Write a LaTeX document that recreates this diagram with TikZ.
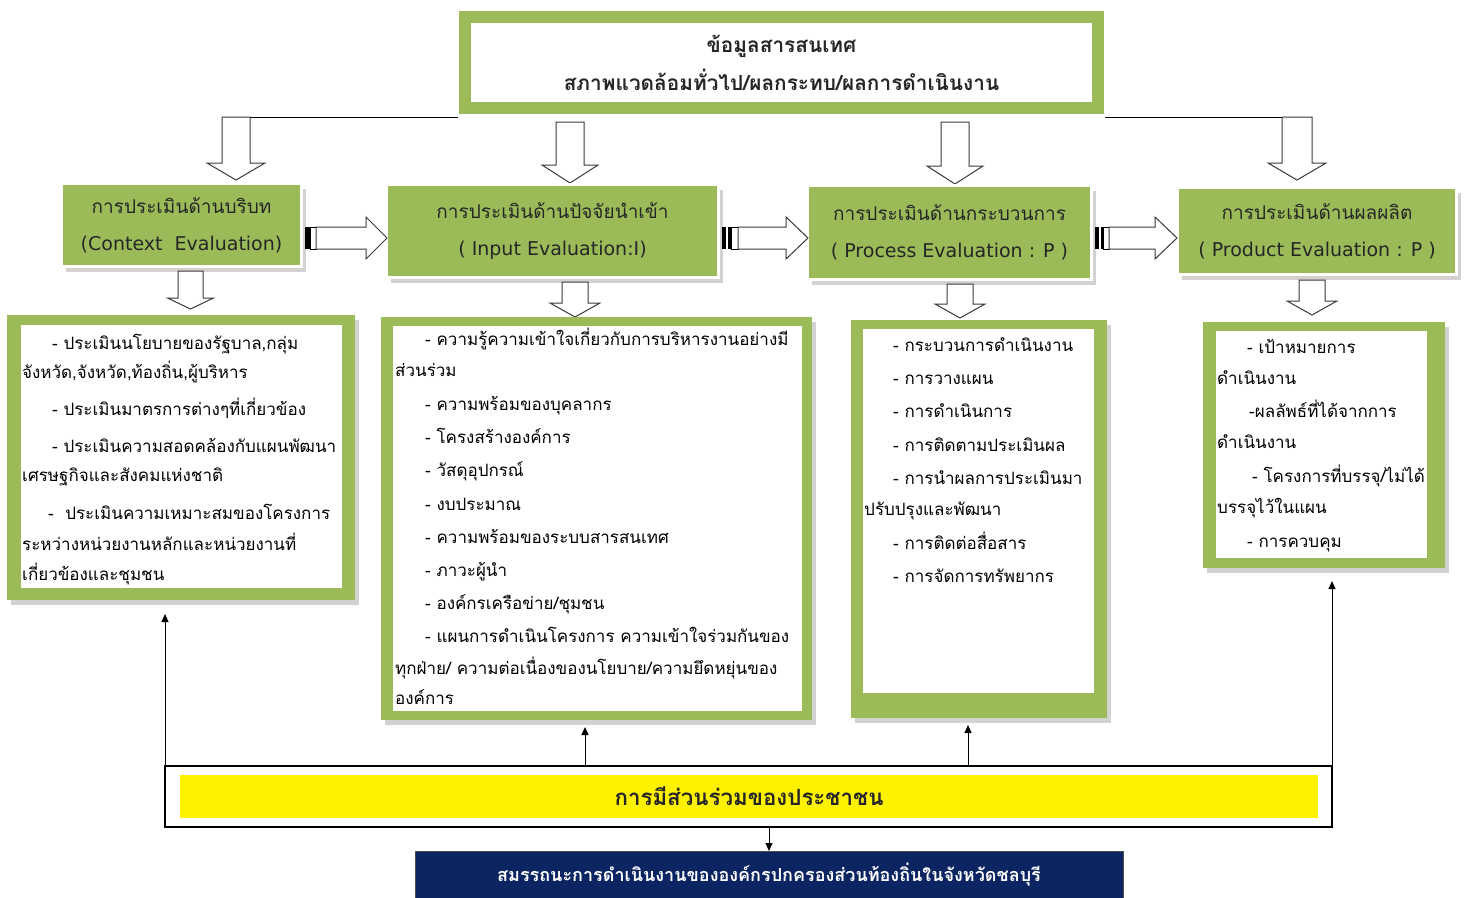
\documentclass[tikz,border=0pt]{standalone}
\usepackage{fontspec}
\setmainfont[Script=Thai]{Loma}
\newfontfamily\latinfont{DejaVu Sans}
\usetikzlibrary{arrows.meta,shadows}
\definecolor{ogreen}{HTML}{9BBB59}
\definecolor{navy}{HTML}{0B2462}
\definecolor{shadowgray}{HTML}{D2D2D2}
\definecolor{arrowgray}{HTML}{3A3A3A}
\newcounter{ln}
\newcommand\tl[3]{\stepcounter{ln}\node[dtext] (ln\arabic{ln}) at (#1,#2+5) {#3};}
\newcommand\lat[1]{{\latinfont\fontsize{19}{37}\selectfont #1}}
% block arrow down: x, ytop, ytip, halfshaft, halfhead, headlen
\newcommand\bdown[6]{\draw[barrow] (#1-#4,#2) -- (#1+#4,#2) -- (#1+#4,#3-#6) -- (#1+#5,#3-#6) -- (#1,#3) -- (#1-#5,#3-#6) -- (#1-#4,#3-#6) -- cycle;}
% block arrow right: xstart, xhead, xtip, yc
\newcommand\bright[4]{\draw[barrow] (#1,#4-11) -- (#2,#4-11) -- (#2,#4-21) -- (#3,#4) -- (#2,#4+21) -- (#2,#4+11) -- (#1,#4+11) -- cycle;}
\begin{document}
\begin{tikzpicture}[x=1pt,y=-1pt,
  shad/.style={general shadow={fill=shadowgray, shadow xshift=4pt, shadow yshift=-5pt}},
  titlebox/.style={shad, fill=ogreen, draw=white, line width=3pt, inner sep=0pt, outer sep=0pt,
     align=center, text=black!85, font=\fontsize{19}{37}\selectfont},
  dbox/.style={shad, fill=ogreen, inner sep=0pt, outer sep=0pt},
  dtext/.style={anchor=base west, inner sep=0pt, font=\fontsize{17}{20}\selectfont},
  barrow/.style={draw=arrowgray, fill=white, line width=1pt, line join=miter},
  thinarrow/.style={draw=black, line width=1pt, -{Triangle[length=8pt,width=7pt]}}]
\useasboundingbox (0,0) rectangle (1464,897);
\fill[white] (0,0) rectangle (1464,897);

% top box
\node[shad, fill=white, draw=ogreen, line width=12pt, inner sep=0pt, outer sep=0pt,
  minimum width=633pt, minimum height=91pt, align=center,
  font=\bfseries\fontsize{20.8}{38}\selectfont, text=black!85] (top) at (781.5,62.5)
  {ข้อมูลสารสนเทศ\\สภาพแวดล้อมทั่วไป/ผลกระทบ/ผลการดำเนินงาน};
\coordinate (jl) at (236,117);
\coordinate (jr) at (1297,117);
\draw[line width=1pt] (jl) -- ([xshift=-7pt]top.south west |- jl);
\draw[line width=1pt] ([xshift=7pt]top.south east |- jr) -- ([xshift=15pt]jr);

% top down block arrows
\bdown{236}{117}{180}{14}{29}{17}
\bdown{570}{122}{183}{14}{28}{18}
\bdown{955}{122}{184}{14}{28}{18}
\bdown{1297}{117}{180}{15}{29}{17}

% title boxes
\node[titlebox, minimum width=240pt, minimum height=83pt] (ctx) at (181.5,225)
  {การประเมินด้านบริบท\\\lat{(Context\ \ Evaluation)}};
\node[titlebox, minimum width=332pt, minimum height=93pt] (inp) at (552.5,231)
  {การประเมินด้านปัจจัยนำเข้า\\\lat{( Input Evaluation:I)}};
\node[titlebox, minimum width=284pt, minimum height=94pt] (pro) at (949.5,232.5)
  {การประเมินด้านกระบวนการ\\\lat{( Process Evaluation : P )}};
\node[titlebox, minimum width=279pt, minimum height=87pt] (prd) at (1317,231)
  {การประเมินด้านผลผลิต\\\lat{( Product Evaluation : P )}};

% right striped block arrows
\fill[black] (305,227) rectangle (310,249);
\draw[line width=1pt] (310,227) rectangle (316,249);
\bright{316}{366}{387}{238}
\fill[black] (722,227) rectangle (726,249);
\fill[black] (728,227) rectangle (731,249);
\draw[line width=1pt] (731,227) rectangle (738,249);
\bright{738}{786}{808}{238}
\fill[black] (1095,227) rectangle (1099,249);
\fill[black] (1101,227) rectangle (1103,249);
\draw[line width=1pt] (1103,227) rectangle (1109,249);
\bright{1109}{1155}{1177}{238}

% second-level down arrows
\bdown{190.5}{271}{309}{12.5}{23}{11}
\bdown{575}{282}{317}{13}{25}{14}
\bdown{960}{284}{318}{13}{25}{14}
\bdown{1312}{280}{315}{13}{25}{14}

% detail boxes
\node[dbox, minimum width=348pt, minimum height=285pt] (d1) at (181,457.5) {};
\fill[white] (21,325) rectangle (342,588);
\node[dbox, minimum width=431pt, minimum height=403pt] (d2) at (596.5,518.5) {};
\fill[white] (393,326) rectangle (802,711);
\node[dbox, minimum width=256pt, minimum height=398pt] (d3) at (979,519) {};
\fill[white] (863,329) rectangle (1094,693);
\node[dbox, minimum width=242pt, minimum height=246pt] (d4) at (1324,445) {};
\fill[white] (1216,331) rectangle (1427,558);

% d1 text
\tl{52}{344}{- ประเมินนโยบายของรัฐบาล,กลุ่ม}
\tl{22}{373}{จังหวัด,จังหวัด,ท้องถิ่น,ผู้บริหาร}
\tl{52}{410}{- ประเมินมาตรการต่างๆที่เกี่ยวข้อง}
\tl{52}{447}{- ประเมินความสอดคล้องกับแผนพัฒนา}
\tl{22}{476}{เศรษฐกิจและสังคมแห่งชาติ}
\tl{48}{514}{-\ \ ประเมินความเหมาะสมของโครงการ}
\tl{22}{545}{ระหว่างหน่วยงานหลักและหน่วยงานที่}
\tl{22}{575}{เกี่ยวข้องและชุมชน}

% d2 text
\tl{425}{340}{- ความรู้ความเข้าใจเกี่ยวกับการบริหารงานอย่างมี}
\tl{395}{371}{ส่วนร่วม}
\tl{425}{405}{- ความพร้อมของบุคลากร}
\tl{425}{438}{- โครงสร้างองค์การ}
\tl{425}{471}{- วัสดุอุปกรณ์}
\tl{425}{505}{- งบประมาณ}
\tl{425}{538}{- ความพร้อมของระบบสารสนเทศ}
\tl{425}{571}{- ภาวะผู้นำ}
\tl{425}{604}{- องค์กรเครือข่าย/ชุมชน}
\tl{425}{637}{- แผนการดำเนินโครงการ ความเข้าใจร่วมกันของ}
\tl{395}{669}{ทุกฝ่าย/ ความต่อเนื่องของนโยบาย/ความยึดหยุ่นของ}
\tl{395}{699}{องค์การ}

% d3 text
\tl{893}{346}{- กระบวนการดำเนินงาน}
\tl{893}{379}{- การวางแผน}
\tl{893}{412}{- การดำเนินการ}
\tl{893}{446}{- การติดตามประเมินผล}
\tl{893}{479}{- การนำผลการประเมินมา}
\tl{864}{510}{ปรับปรุงและพัฒนา}
\tl{893}{544}{- การติดต่อสื่อสาร}
\tl{893}{577}{- การจัดการทรัพยากร}

% d4 text
\tl{1247}{348}{- เป้าหมายการ}
\tl{1217}{379}{ดำเนินงาน}
\tl{1249}{412}{-ผลลัพธ์ที่ได้จากการ}
\tl{1217}{443}{ดำเนินงาน}
\tl{1252}{477}{- โครงการที่บรรจุ/ไม่ได้}
\tl{1217}{508}{บรรจุไว้ในแผน}
\tl{1247}{542}{- การควบคุม}

% participation box
\node[fill=white, draw=black, line width=1.2pt, inner sep=0pt, outer sep=0pt,
  minimum width=1167pt, minimum height=61pt] (part) at (748.5,796.5) {};
\node[fill=yellow, inner sep=0pt, minimum width=1138pt, minimum height=43pt,
  font=\bfseries\fontsize{22.3}{25}\selectfont, text=black!85] (partin) at (749,796.5)
  {การมีส่วนร่วมของประชาชน};

% outcome box
\node[fill=navy, draw=black!70, inner sep=0pt, outer sep=0pt, minimum width=708pt,
  minimum height=48pt, text=white, font=\bfseries\fontsize{18}{21}\selectfont] (navy) at (769,875)
  {สมรรถนะการดำเนินงานขององค์กรปกครองส่วนท้องถิ่นในจังหวัดชลบุรี};

% thin arrows
\draw[thinarrow, shorten >=14pt] (part.north west) -- (part.north west |- d1.south);
\draw[thinarrow, shorten >=7pt] (part.north -| 585,0) -- (585,0 |- d2.south);
\draw[thinarrow, shorten >=7pt] (part.north -| 968,0) -- (968,0 |- d3.south);
\draw[thinarrow, shorten >=13pt] (part.north east) -- (part.north east |- d4.south);
\draw[thinarrow] (navy.north |- part.south) -- (navy.north);
\end{tikzpicture}
\end{document}
